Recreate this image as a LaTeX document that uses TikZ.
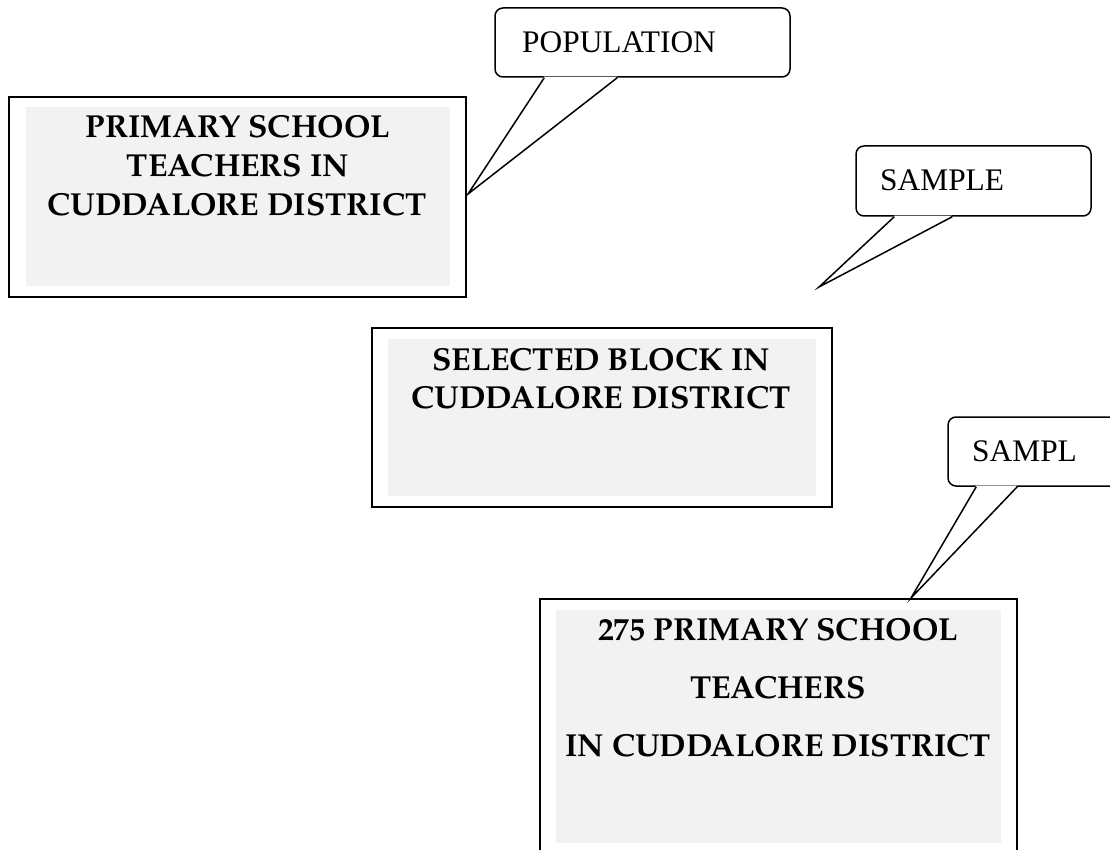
\documentclass[tikz,border=0pt]{standalone}
\usepackage{fontspec}
\setmainfont{Liberation Serif}
\newfontfamily\boxfont{texgyrepagella}[Extension=.otf, UprightFont=*-regular, BoldFont=*-bold]
\usetikzlibrary{calc}
\definecolor{panel}{HTML}{F2F2F2}

\tikzset{
  frame/.style={draw=black, line width=2pt, fill=white, inner sep=0pt, rectangle},
  shade/.style={fill=panel, draw=none, inner sep=0pt, rectangle},
  boxtext/.style={anchor=base, inner sep=0pt, font=\boxfont\bfseries\fontsize{31.8}{38}\selectfont},
  bubble/.style={draw=black, line width=1.5pt, fill=white, rounded corners=8pt, inner sep=0pt, rectangle},
  bubbletext/.style={anchor=base west, inner sep=0pt, font=\fontsize{31.4}{36}\selectfont},
  tail/.style={draw=black, line width=1.5pt, line join=miter}
}

\begin{document}
\begin{tikzpicture}[x=1pt, y=-1pt]
\useasboundingbox (0,0) rectangle (1110,850);
\clip (0,0) rectangle (1110,850);

% population frame
\node[frame, minimum width=457pt, minimum height=200pt] (pop) at (237.5,197) {};
\node[shade, minimum width=424pt, minimum height=179pt] (popbg) at (238,196.5) {};
\node[boxtext] (pop1) at (238,138) {PRIMARY SCHOOL};
\node[boxtext] (pop2) at (238,177) {TEACHERS IN};
\node[boxtext] (pop3) at (237,216) {CUDDALORE DISTRICT};

% selected block frame
\node[frame, minimum width=460pt, minimum height=179pt] (blk) at (602,417.5) {};
\node[shade, minimum width=428pt, minimum height=157pt] (blkbg) at (602,417.5) {};
\node[boxtext] (blk1) at (601,370) {SELECTED BLOCK IN};
\node[boxtext] (blk2) at (601,408) {CUDDALORE DISTRICT};

% teacher sample frame
\node[frame, minimum width=477pt, minimum height=300pt] (smp) at (778.5,749) {};
\node[shade, minimum width=445pt, minimum height=233pt] (smpbg) at (778.5,726.5) {};
\node[boxtext] (smp1) at (778,640) {275 PRIMARY SCHOOL};
\node[boxtext] (smp2) at (778,698) {TEACHERS};
\node[boxtext] (smp3) at (778,756) {IN CUDDALORE DISTRICT};

% callout: POPULATION
\node[bubble, minimum width=295pt, minimum height=69pt] (cpop) at (642.5,42.5) {};
\node[bubbletext] (cpoptext) at (522,53) {POPULATION};
\coordinate (cpoptip) at ($(pop.east)+(1,-3)$);
\fill[white] ($(cpop.south west)+(50,-1.2)$) -- (cpoptip) -- ($(cpop.south west)+(123,-1.2)$) -- cycle;
\draw[tail] ($(cpop.south west)+(50,0)$) -- (cpoptip) -- ($(cpop.south west)+(123,0)$);

% callout: SAMPLE
\node[bubble, minimum width=235pt, minimum height=70pt] (csmp) at (973.5,181) {};
\node[bubbletext] (csmptext) at (880,191) {SAMPLE};
\coordinate (csmptip) at (819,287);
\fill[white] ($(csmp.south west)+(39,-1.2)$) -- (csmptip) -- ($(csmp.south west)+(97,-1.2)$) -- cycle;
\draw[tail] ($(csmp.south west)+(39,0)$) -- (csmptip) -- ($(csmp.south west)+(97,0)$);

% callout: SAMPL
\node[bubble, minimum width=177pt, minimum height=69pt] (csml) at (1036.5,451.5) {};
\node[bubbletext] (csmltext) at (972,461) {SAMPL};
\coordinate (csmltip) at ($(smp.north west)+(372,0)$);
\fill[white] ($(csml.south west)+(29,-1.2)$) -- (csmltip) -- ($(csml.south west)+(70,-1.2)$) -- cycle;
\draw[tail] ($(csml.south west)+(29,0)$) -- (csmltip) -- ($(csml.south west)+(70,0)$);
\end{tikzpicture}
\end{document}
